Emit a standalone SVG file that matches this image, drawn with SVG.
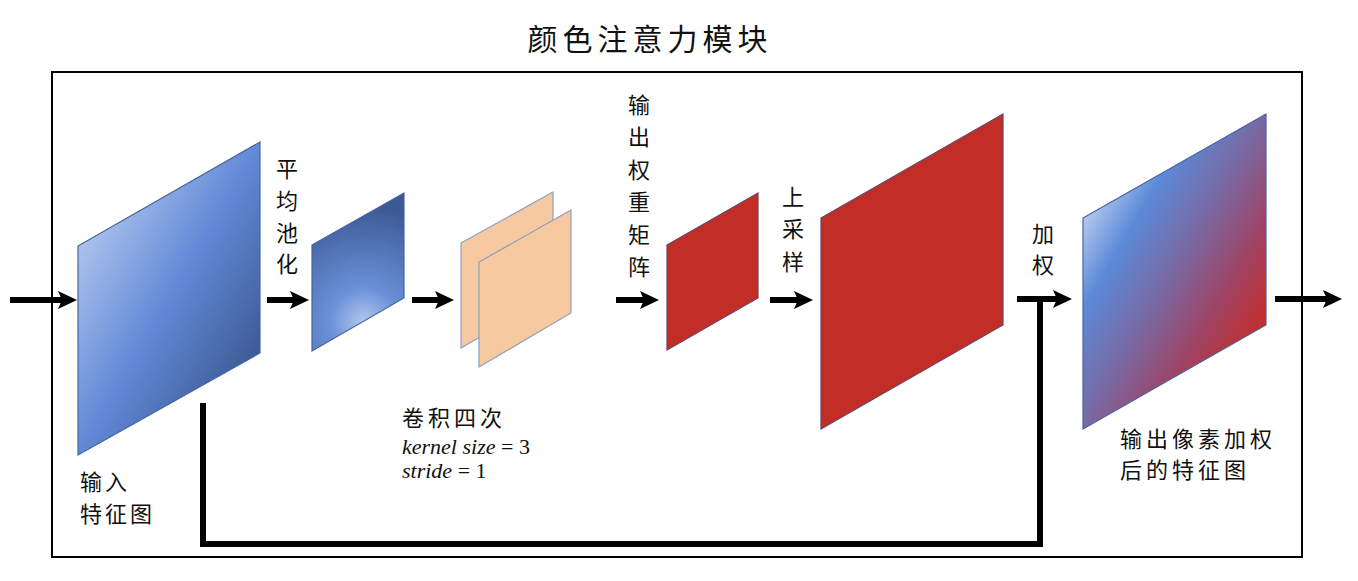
<svg xmlns="http://www.w3.org/2000/svg" width="1358" height="581" viewBox="0 0 1358 581">
<style>
.cjk{font-family:"Noto Sans CJK SC","Noto Sans",sans-serif;fill:#111;}
.lbl{font-size:22px;}
.v{text-anchor:middle;dominant-baseline:central;}
.math{font-family:"Liberation Serif",serif;font-style:italic;font-size:22px;fill:#111;}
.up{font-style:normal;}
.arr{stroke:#000;stroke-width:6;fill:none;marker-end:url(#ah);}
.plane{stroke-width:1.2;}
</style>
<defs>
<marker id="ah" markerUnits="userSpaceOnUse" markerWidth="20" markerHeight="20" viewBox="0 0 20 20" refX="8" refY="10" orient="auto">
<path d="M0,1 L19,10 L0,19 L4,10 z" fill="#000"/>
</marker>
<linearGradient id="gIn" gradientUnits="userSpaceOnUse" x1="78" y1="246" x2="260" y2="353">
<stop offset="0" stop-color="#abc2ed"/>
<stop offset="0.5" stop-color="#6289d6"/>
<stop offset="1" stop-color="#3d5a95"/>
</linearGradient>
<radialGradient id="gPool" gradientUnits="userSpaceOnUse" cx="364" cy="322" r="115">
<stop offset="0" stop-color="#b2c7f0"/>
<stop offset="0.3" stop-color="#6a90d8"/>
<stop offset="1" stop-color="#3c5a95"/>
</radialGradient>
<linearGradient id="gOut" gradientUnits="userSpaceOnUse" x1="1083" y1="218" x2="1266" y2="325">
<stop offset="0" stop-color="#b6c9f0"/>
<stop offset="0.22" stop-color="#5b89d8"/>
<stop offset="0.5" stop-color="#7a68a2"/>
<stop offset="0.75" stop-color="#9e4466"/>
<stop offset="1" stop-color="#c42e28"/>
</linearGradient>
</defs>

<text class="cjk" x="650" y="37" font-size="30" text-anchor="middle" dominant-baseline="central" letter-spacing="5">颜色注意力模块</text>

<rect id="frame" x="52" y="72" width="1250" height="485" fill="none" stroke="#000" stroke-width="2"/>

<g id="connectors">
<line class="arr" x1="10" y1="300" x2="66" y2="300"/>
<line class="arr" x1="267" y1="300" x2="298" y2="300"/>
<line class="arr" x1="412" y1="300" x2="443" y2="300"/>
<line class="arr" x1="616" y1="300" x2="648" y2="300"/>
<line class="arr" x1="770" y1="300" x2="802" y2="300"/>
<line class="arr" x1="1017" y1="299" x2="1061" y2="299"/>
<line class="arr" x1="1275" y1="299" x2="1331" y2="299"/>
<path d="M203,403 V544 H1040 V299" fill="none" stroke="#000" stroke-width="6" stroke-linejoin="miter"/>
</g>

<g id="input">
<polygon class="plane" points="78,246 260,142 260,353 78,455" fill="url(#gIn)" stroke="#4a64a0"/>
<text class="cjk lbl" x="80" y="480" dominant-baseline="central" letter-spacing="3">输入</text>
<text class="cjk lbl" x="80" y="512" dominant-baseline="central" letter-spacing="3">特征图</text>
</g>

<g id="pool">
<text class="cjk lbl v" x="287"><tspan x="287" y="167">平</tspan><tspan x="287" y="199">均</tspan><tspan x="287" y="231">池</tspan><tspan x="287" y="262">化</tspan></text>
<polygon class="plane" points="312,245 404,193 404,298 312,351" fill="url(#gPool)" stroke="#4a64a0"/>
</g>

<g id="conv">
<polygon class="plane" points="461,243 553,192 553,295 461,348" fill="#f7c9a0" stroke="#8e9fbe"/>
<polygon class="plane" points="479,262 571,210 571,313 479,367" fill="#f7c9a0" stroke="#8e9fbe"/>
<text class="cjk lbl" x="402" y="416" dominant-baseline="central" letter-spacing="4">卷积四次</text>
<text class="math" x="402" y="454">kernel size <tspan class="up">= 3</tspan></text>
<text class="math" x="402" y="478">stride <tspan class="up">= 1</tspan></text>
</g>

<g id="weights">
<text class="cjk lbl v" x="639"><tspan x="639" y="103">输</tspan><tspan x="639" y="135">出</tspan><tspan x="639" y="168">权</tspan><tspan x="639" y="200">重</tspan><tspan x="639" y="233">矩</tspan><tspan x="639" y="265">阵</tspan></text>
<polygon class="plane" points="667,245 758,193 758,298 667,350" fill="#c22e26" stroke="#6a4468"/>
</g>

<g id="upsample">
<text class="cjk lbl v" x="793"><tspan x="793" y="195">上</tspan><tspan x="793" y="227">采</tspan><tspan x="793" y="260">样</tspan></text>
<polygon class="plane" points="821,218 1003,114 1003,325 821,429" fill="#c22e26" stroke="#6a4468"/>
</g>

<g id="weighting">
<text class="cjk lbl v" x="1043"><tspan x="1043" y="232">加</tspan><tspan x="1043" y="263">权</tspan></text>
</g>

<g id="output">
<polygon class="plane" points="1083,218 1266,114 1266,325 1083,429" fill="url(#gOut)" stroke="#4a64a0"/>
<text class="cjk lbl" x="1120" y="437" dominant-baseline="central" letter-spacing="4">输出像素加权</text>
<text class="cjk lbl" x="1120" y="468" dominant-baseline="central" letter-spacing="4">后的特征图</text>
</g>
</svg>
